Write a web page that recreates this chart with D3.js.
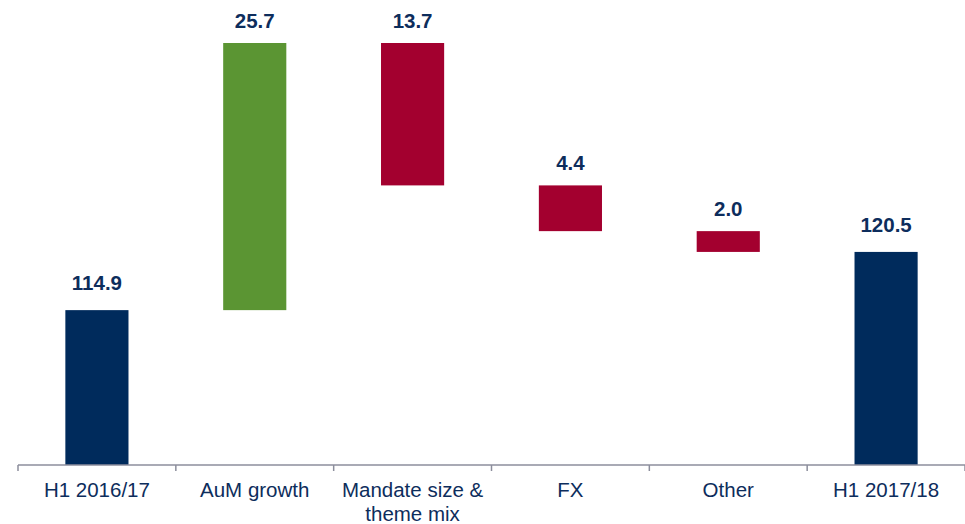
<!DOCTYPE html>
<html><head><meta charset="utf-8">
<script src="https://cdnjs.cloudflare.com/ajax/libs/d3/7.8.5/d3.min.js"></script>
<style>body{margin:0;background:#fff}svg{display:block}</style>
</head><body>
<svg id="c" width="965" height="524"></svg>
<script>
const categories = ["H1 2016/17", "AuM growth", "Mandate size & theme mix", "FX", "Other", "H1 2017/18"];
const categoryLines = [["H1 2016/17"], ["AuM growth"], ["Mandate size &", "theme mix"], ["FX"], ["Other"], ["H1 2017/18"]];
const values = [114.9, 25.7, -13.7, -4.4, -2.0, 120.5];
const kinds = ["total", "delta", "delta", "delta", "delta", "total"];
const valueLabels = ["114.9", "25.7", "13.7", "4.4", "2.0", "120.5"];

const colors = {total: "#002b5c", up: "#5b9533", down: "#a3002f"};
const textColor = "#0d2d5c";

// build waterfall segments
let running = 0;
const segs = values.map((v, i) => {
  let lo, hi, type;
  if (kinds[i] === "total") { lo = 0; hi = v; running = v; type = "total"; }
  else { const s = running; running = s + v; lo = Math.min(s, running); hi = Math.max(s, running); type = v >= 0 ? "up" : "down"; }
  return {cat: categories[i], lo, hi, type, label: valueLabels[i], lines: categoryLines[i]};
});

const svg = d3.select("#c");
const baseY = 465;
const x = d3.scaleBand().domain(categories).range([18, 965]).paddingInner(0.6).paddingOuter(0.3);
const y = d3.scaleLinear().domain([100, 140.6]).range([baseY, 43]);

svg.append("g").selectAll("rect").data(segs).join("rect")
  .attr("x", d => x(d.cat))
  .attr("width", x.bandwidth())
  .attr("y", d => y(d.hi))
  .attr("height", d => y(Math.max(d.lo, 100)) - y(d.hi))
  .attr("fill", d => colors[d.type]);

svg.append("g").selectAll("text").data(segs).join("text")
  .attr("x", d => x(d.cat) + x.bandwidth() / 2)
  .attr("y", d => y(d.hi) - (d.type === "total" ? 20 : 15))
  .attr("text-anchor", "middle")
  .attr("font-family", "Liberation Sans, Arial, sans-serif")
  .attr("font-weight", "bold")
  .attr("font-size", 20.5)
  .attr("fill", textColor)
  .text(d => d.label);

// axis
const ax = svg.append("g");
ax.append("line").attr("x1", 18).attr("x2", 965).attr("y1", baseY).attr("y2", baseY)
  .attr("stroke", "#8c8e9c").attr("stroke-width", 1.5);
const bounds = d3.range(categories.length + 1).map(i => 18 + i * (947 / categories.length));
ax.selectAll("line.t").data(bounds).join("line").attr("class", "t")
  .attr("x1", d => d).attr("x2", d => d).attr("y1", baseY).attr("y2", baseY + 6)
  .attr("stroke", "#8c8e9c").attr("stroke-width", 1.5);

const lbl = svg.append("g").selectAll("text").data(segs).join("text")
  .attr("x", d => x(d.cat) + x.bandwidth() / 2)
  .attr("y", 497)
  .attr("text-anchor", "middle")
  .attr("font-family", "Liberation Sans, Arial, sans-serif")
  .attr("font-size", 20.5)
  .attr("fill", textColor);
lbl.selectAll("tspan").data(d => d.lines.map(l => ({l, cx: x(d.cat) + x.bandwidth() / 2}))).join("tspan")
  .attr("x", d => d.cx)
  .attr("dy", (d, i) => i === 0 ? 0 : 24)
  .text(d => d.l);
</script>
</body></html>
